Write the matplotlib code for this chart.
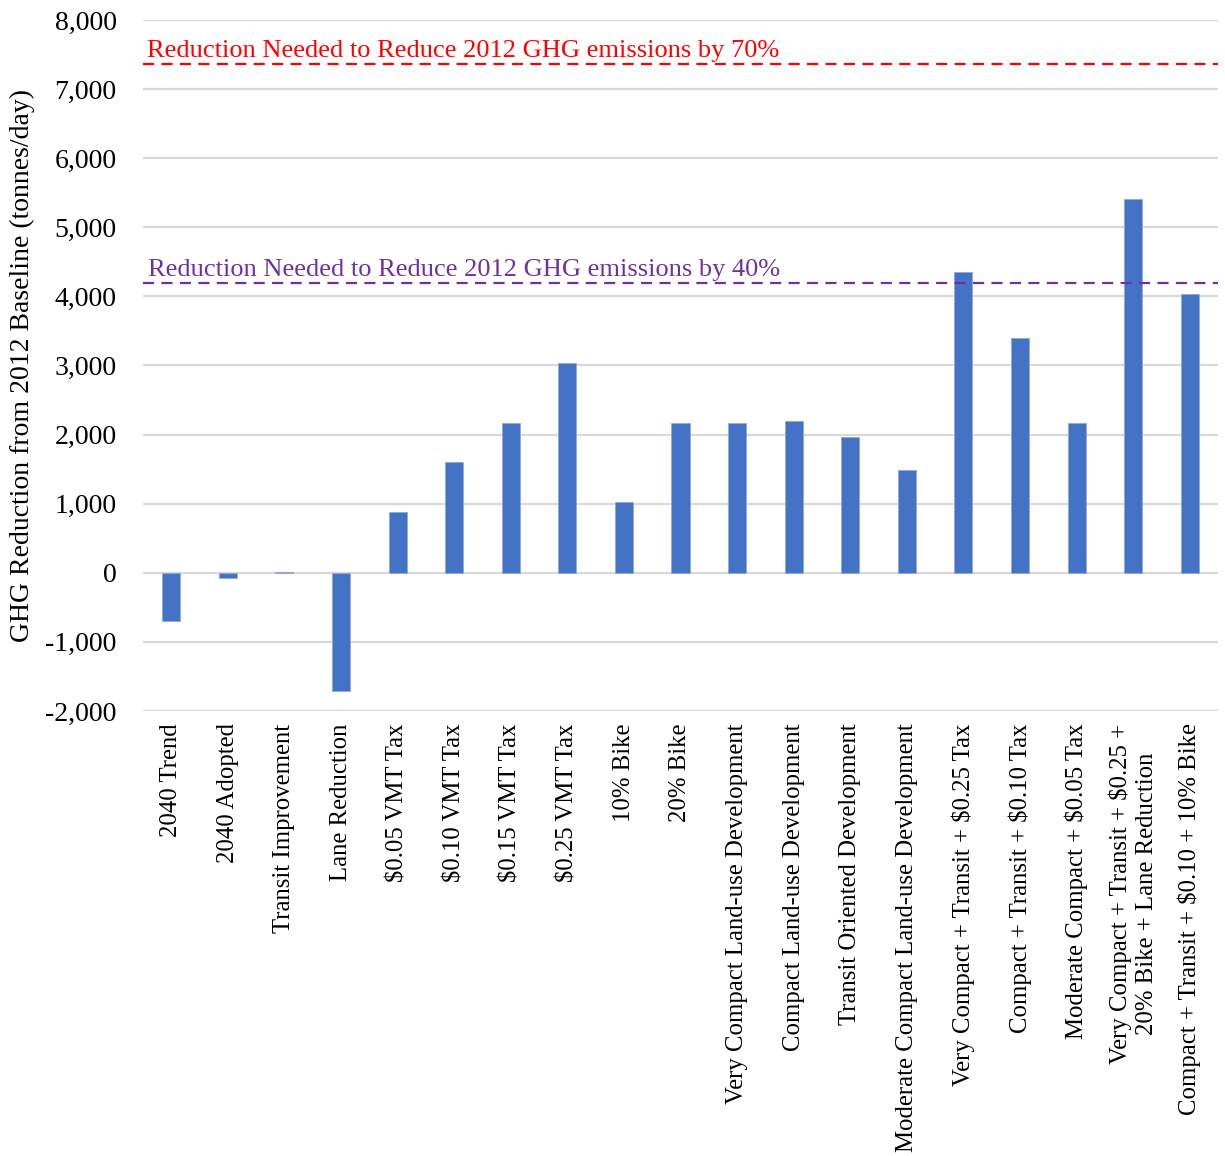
import matplotlib
matplotlib.use("Agg")
import matplotlib.pyplot as plt

plt.rcParams["font.family"] = ["Liberation Serif", "DejaVu Serif"]
plt.rcParams["text.parse_math"] = False

categories = [
    "2040 Trend", "2040 Adopted", "Transit Improvement", "Lane Reduction",
    "$0.05 VMT Tax", "$0.10 VMT Tax", "$0.15 VMT Tax", "$0.25 VMT Tax",
    "10% Bike", "20% Bike", "Very Compact Land-use Development",
    "Compact Land-use Development", "Transit Oriented Development",
    "Moderate Compact Land-use Development",
    "Very Compact + Transit + $0.25 Tax", "Compact + Transit + $0.10 Tax",
    "Moderate Compact + $0.05 Tax",
    "Very Compact + Transit + $0.25 +\n20% Bike + Lane Reduction",
    "Compact + Transit + $0.10 + 10% Bike",
]
reductions = [-700, -80, 10, -1710, 880, 1600, 2170, 3040, 1030, 2170,
              2170, 2200, 1970, 1480, 4360, 3400, 2170, 5410, 4040]

target_70 = 7370
target_40 = 4200
target_70_label = "Reduction Needed to Reduce 2012 GHG emissions by 70%"
target_40_label = "Reduction Needed to Reduce 2012 GHG emissions by 40%"

yticks = list(range(-2000, 8001, 1000))

fig = plt.figure(figsize=(12.25, 11.56), dpi=100)
ax = fig.add_axes([0.1167, 0.385, 0.8776, 0.5977])

x = list(range(len(categories)))
ax.bar(x, reductions, width=0.32, color="#4472C4", edgecolor="#8faadc",
       linewidth=0.6, zorder=3)

ax.axhline(target_70, color="#FF0000", linewidth=1.6, dashes=(5, 3.3), zorder=4)
ax.axhline(target_40, color="#7030A0", linewidth=1.6, dashes=(5, 3.3), zorder=4)
ax.text(0.0035, target_70 + 25, target_70_label, color="#FF0000", fontsize=19,
        transform=ax.get_yaxis_transform(), va="bottom", ha="left", zorder=5)
ax.text(0.005, target_40 + 25, target_40_label, color="#7030A0", fontsize=19,
        transform=ax.get_yaxis_transform(), va="bottom", ha="left", zorder=5)

ax.set_xlim(-0.5, len(categories) - 0.5)
ax.set_ylim(-2000, 8000)
ax.set_yticks(yticks)
ax.set_yticklabels([f"{v:,}" for v in yticks], fontsize=20)
ax.yaxis.grid(True, color="#d9d9d9", linewidth=1.6, zorder=0)
ax.set_axisbelow(True)
ax.tick_params(axis="both", length=0)
ax.tick_params(axis="y", pad=19)

ax.set_xticks(x)
ax.set_xticklabels(categories, rotation=90, fontsize=17.8, ha="center", va="top",
                   multialignment="center")
ax.tick_params(axis="x", pad=9)

for s in ax.spines.values():
    s.set_visible(False)

fig.text(22 / 1225, 1 - 365 / 1156,
         "GHG Reduction from 2012 Baseline (tonnes/day)", fontsize=20,
         rotation=90, ha="center", va="center")

fig.savefig("out.png", dpi=100)
